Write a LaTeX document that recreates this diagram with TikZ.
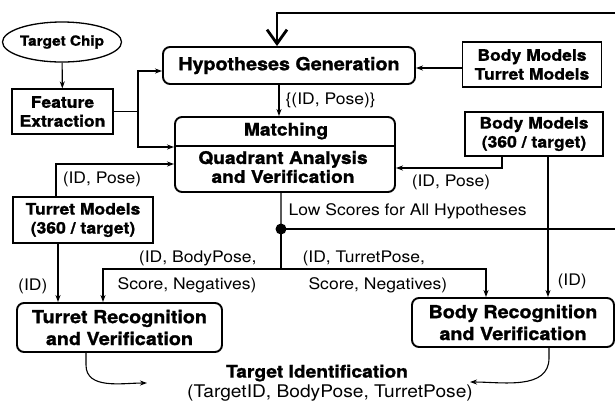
\documentclass[tikz,border=0pt]{standalone}
\usepackage{fontspec}
\setmainfont[FakeStretch=1.1, BoldFeatures={FakeBold=1.2}]{TeX Gyre Heros}
\usetikzlibrary{positioning,shapes.geometric,arrows.meta}

\begin{document}
\begin{tikzpicture}
[x=1bp, y=-1bp, line width=1.1bp, >={Stealth[length=7bp,width=5bp]},
plainbox/.style={rectangle, draw, line width=1.3bp, align=center, inner sep=0pt, font=\bfseries\fontsize{16}{19}\selectfont},
roundbox/.style={rectangle, draw, line width=1.9bp, rounded corners=7bp, align=center, inner sep=0pt, font=\bfseries\fontsize{18}{22}\selectfont},
chipnode/.style={ellipse, draw, line width=1.3bp, inner sep=0pt, font=\bfseries\fontsize{14}{16}\selectfont},
lbl/.style={inner sep=0pt, font=\fontsize{16}{19}\selectfont},
thickline/.style={line width=2.8bp},
]
\useasboundingbox (0,0) rectangle (615,404);

\node[chipnode, minimum width=92bp, minimum height=40bp]	(chip) at (62,42) {Target Chip};
\node[plainbox, minimum width=101bp, minimum height=45bp]	(feat) at (62.5,111.5) {Feature\\Extraction};
\node[roundbox, minimum width=252bp, minimum height=37bp]	(hyp) at (289,65.5) {Hypotheses Generation};
\node[plainbox, minimum width=139bp, minimum height=45bp]	(bt) at (532,64.5) {Body Models\\Turret Models};
\node[roundbox, minimum width=220bp, minimum height=75bp]	(match) at (285,154.5) {};
\node[lbl, font=\bfseries\fontsize{17.5}{20}\selectfont]	(mtitle) at (286,131) {Matching};
\node[lbl, align=center, font=\bfseries\fontsize{17.5}{19}\selectfont]	(qav) at (283,167) {Quadrant Analysis\\and Verification};
\node[plainbox, minimum width=138bp, minimum height=44bp]	(bm) at (534,134) {Body Models\\(360 / target)};
\node[plainbox, minimum width=140bp, minimum height=46bp]	(tm) at (83,220) {Turret Models\\(360 / target)};
\node[roundbox, minimum width=205bp, minimum height=49bp]	(tr) at (119.5,327.5) {Turret Recognition\\and Verification};
\node[roundbox, minimum width=202bp, minimum height=49bp]	(br) at (513,322.5) {Body Recognition\\and Verification};
\node[lbl, font=\bfseries\fontsize{17.5}{20}\selectfont]	(tid) at (317,373) {Target Identification};
\node[lbl, font=\fontsize{17.5}{20}\selectfont]	(tidsub) at (330,393) {(TargetID, BodyPose, TurretPose)};

\coordinate (split) at (138,111.5);
\coordinate (loopin) at (615,13);
\coordinate (dot) at (281,229);
\coordinate (failout) at (615,229);
\coordinate (fork) at (281,269);
\coordinate (tidl) at (147,383);
\coordinate (tidr) at (470,382);

\draw (match.west |- 0,146) -- (match.east |- 0,146);

\draw[->] (chip) -- (feat);
\draw (feat.east) -- (split);
\draw[->] (split) |- ([yshift=-5.5bp]hyp.west);
\draw[->] (split) |- ([yshift=7.5bp]match.west);
\draw[->] ([yshift=-3.5bp]bt.west) -- ([yshift=-3.5bp]bt.west -| hyp.east);
\draw[thickline, -{Straight Barb[length=14bp,width=20bp,line width=2.8bp]}] (loopin) -| ([xshift=-12bp]hyp.north);
\draw[->] ([xshift=-10bp]hyp.south) -- ([xshift=-10bp]hyp.south |- match.north) node[midway, right, lbl, xshift=6bp] {\{(ID, Pose)\}};

\draw[->] ([xshift=-27bp]tm.north) |- ([yshift=-9.5bp]match.west) node[pos=0.5, lbl, xshift=46bp, yshift=-15bp] {(ID, Pose)};
\draw[->] ([xshift=-32bp]bm.south) |- ([yshift=-13.5bp]match.east) node[pos=0.5, lbl, xshift=-51bp, yshift=-14bp] {(ID, Pose)};

\draw ([xshift=-4bp]match.south) -- (dot) node[midway, right, lbl, xshift=7bp] {Low Scores for All Hypotheses};
\fill (dot) circle (5.5bp);
\draw[thickline] (dot) -- (failout);
\draw (dot) -- (fork);
\draw[->] (fork) -| ([xshift=-16.5bp]tr.north)
  node[pos=0.25, lbl, anchor=east, xshift=65bp, yshift=11bp] {(ID, BodyPose,}
  node[pos=0.25, lbl, anchor=east, xshift=65bp, yshift=-16bp] {Score, Negatives)};
\draw[->] (fork) -| ([xshift=-27bp]br.north)
  node[pos=0.25, lbl, anchor=west, xshift=-81.5bp, yshift=11bp] {(ID, TurretPose,}
  node[pos=0.25, lbl, anchor=west, xshift=-75.5bp, yshift=-16bp] {Score, Negatives)};

\draw[->] ([xshift=-25bp]tm.south) -- ([xshift=-25bp]tm.south |- tr.north) node[midway, left, lbl, xshift=-10bp, yshift=-14bp] {(ID)};
\draw[->] ([xshift=14bp]bm.south) -- ([xshift=14bp]bm.south |- br.north) node[pos=0.89, right, lbl, xshift=9bp] {(ID)};

\draw[->] ([xshift=-33.5bp]tr.south) -- ++(0,12) to[out=-90, in=180] (tidl);
\draw[->] ([xshift=36bp]br.south) -- ++(0,10) to[out=-90, in=0] (tidr);
\end{tikzpicture}
\end{document}
